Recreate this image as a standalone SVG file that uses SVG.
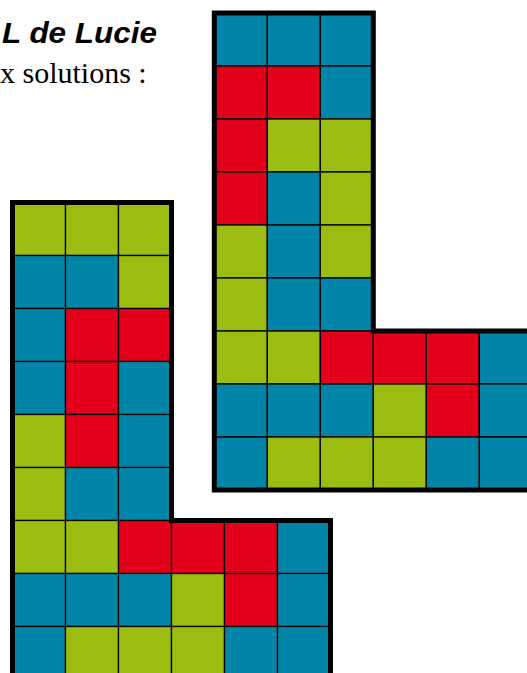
<svg xmlns="http://www.w3.org/2000/svg" width="527" height="673" viewBox="0 0 527 673">
<style>
.b{fill:#0085A8}
.r{fill:#E2001A}
.g{fill:#9BBC10}
.c rect{stroke:#000;stroke-width:1.3;width:53px;height:53px}
.frame{fill:none;stroke:#000;stroke-width:5;stroke-linejoin:miter}
.t1{font-family:"Liberation Sans",Arial,sans-serif;font-weight:bold;font-style:italic;font-size:30px}
.t2{font-family:"Liberation Serif","Times New Roman",serif;font-size:30px}
</style>
<rect width="527" height="673" fill="#fff"/>
<text class="t1" x="2" y="42.6" textLength="155" lengthAdjust="spacingAndGlyphs">L de Lucie</text>
<text class="t2" x="0" y="83">x solutions :</text>
<g id="solution-left" transform="translate(12.5,202.5)">
<g class="c">
<rect class="g" x="0" y="0"/><rect class="g" x="53" y="0"/><rect class="g" x="106" y="0"/>
<rect class="b" x="0" y="53"/><rect class="b" x="53" y="53"/><rect class="g" x="106" y="53"/>
<rect class="b" x="0" y="106"/><rect class="r" x="53" y="106"/><rect class="r" x="106" y="106"/>
<rect class="b" x="0" y="159"/><rect class="r" x="53" y="159"/><rect class="b" x="106" y="159"/>
<rect class="g" x="0" y="212"/><rect class="r" x="53" y="212"/><rect class="b" x="106" y="212"/>
<rect class="g" x="0" y="265"/><rect class="b" x="53" y="265"/><rect class="b" x="106" y="265"/>
<rect class="g" x="0" y="318"/><rect class="g" x="53" y="318"/><rect class="r" x="106" y="318"/><rect class="r" x="159" y="318"/><rect class="r" x="212" y="318"/><rect class="b" x="265" y="318"/>
<rect class="b" x="0" y="371"/><rect class="b" x="53" y="371"/><rect class="b" x="106" y="371"/><rect class="g" x="159" y="371"/><rect class="r" x="212" y="371"/><rect class="b" x="265" y="371"/>
<rect class="b" x="0" y="424"/><rect class="g" x="53" y="424"/><rect class="g" x="106" y="424"/><rect class="g" x="159" y="424"/><rect class="b" x="212" y="424"/><rect class="b" x="265" y="424"/>
</g>
<path class="frame" d="M0,0H159V318H318V477H0Z"/>
</g>
<g id="solution-right" transform="translate(214.3,13)">
<g class="c">
<rect class="b" x="0" y="0"/><rect class="b" x="53" y="0"/><rect class="b" x="106" y="0"/>
<rect class="r" x="0" y="53"/><rect class="r" x="53" y="53"/><rect class="b" x="106" y="53"/>
<rect class="r" x="0" y="106"/><rect class="g" x="53" y="106"/><rect class="g" x="106" y="106"/>
<rect class="r" x="0" y="159"/><rect class="b" x="53" y="159"/><rect class="g" x="106" y="159"/>
<rect class="g" x="0" y="212"/><rect class="b" x="53" y="212"/><rect class="g" x="106" y="212"/>
<rect class="g" x="0" y="265"/><rect class="b" x="53" y="265"/><rect class="b" x="106" y="265"/>
<rect class="g" x="0" y="318"/><rect class="g" x="53" y="318"/><rect class="r" x="106" y="318"/><rect class="r" x="159" y="318"/><rect class="r" x="212" y="318"/><rect class="b" x="265" y="318"/>
<rect class="b" x="0" y="371"/><rect class="b" x="53" y="371"/><rect class="b" x="106" y="371"/><rect class="g" x="159" y="371"/><rect class="r" x="212" y="371"/><rect class="b" x="265" y="371"/>
<rect class="b" x="0" y="424"/><rect class="g" x="53" y="424"/><rect class="g" x="106" y="424"/><rect class="g" x="159" y="424"/><rect class="b" x="212" y="424"/><rect class="b" x="265" y="424"/>
</g>
<path class="frame" d="M0,0H159V318H318V477H0Z"/>
</g>
</svg>
